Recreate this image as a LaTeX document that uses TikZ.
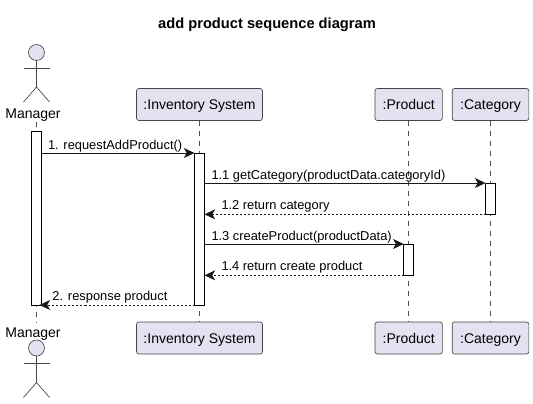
\documentclass[tikz,border=0pt]{standalone}
\usepackage{xcolor}
\usepackage{fontspec}
\setmainfont{Liberation Sans}
\usetikzlibrary{arrows.meta}
\definecolor{boxfill}{HTML}{E2E2F0}
\definecolor{ink}{HTML}{181818}

\begin{document}
\begin{tikzpicture}[
  x=0.75pt, y=-0.75pt,
  every node/.style={inner sep=0pt, outer sep=0pt},
  partbox/.style={draw=ink!80, line width=0.5pt, fill=boxfill, rounded corners=1.8pt, minimum height=24pt, text height=8.2pt, text depth=0pt, font=\fontsize{10.5}{12}\selectfont},
  actorname/.style={anchor=base, font=\fontsize{10.5}{12}\selectfont},
  head/.style={draw=ink!80, line width=0.5pt, fill=boxfill, circle, minimum size=12pt},
  limb/.style={draw=ink!80, line width=0.5pt},
  lifeline/.style={draw=ink!75, line width=0.4pt, dash pattern=on 3.75pt off 3.75pt},
  bar/.style={draw=black, line width=0.75pt, fill=white, minimum width=7.5pt, anchor=north},
  call/.style={draw=ink, line width=0.75pt, -{Stealth[length=8pt, width=7.5pt, inset=2.2pt]}},
  reply/.style={call, dash pattern=on 1.5pt off 1.5pt},
  msg/.style={anchor=base west, font=\fontsize{9.65}{12}\selectfont}
]
\useasboundingbox (0,0) rectangle (533,404);
\fill[white] (0,0) rectangle (533,404);

\node[font=\bfseries\fontsize{11}{12}\selectfont] (title) at (267,25) {add product sequence diagram};

% participants
\node[actorname] (mgrtop) at (33,118) {Manager};
\node[actorname] (mgrbot) at (33,337) {Manager};
\node[partbox, minimum width=94.5pt] (invtop) at (199.5,104.5) {:Inventory System};
\node[partbox, minimum width=94.5pt] (invbot) at (199.5,338) {:Inventory System};
\node[partbox, minimum width=50.5pt] (prodtop) at (408.7,104.5) {:Product};
\node[partbox, minimum width=50.5pt] (prodbot) at (408.7,338) {:Product};
\node[partbox, minimum width=57.5pt] (cattop) at (490.5,104.5) {:Category};
\node[partbox, minimum width=57.5pt] (catbot) at (490.5,338) {:Category};

% actor figures
\foreach \ay/\nm in {52.5/a, 348/b} {
  \node[head] (head\nm) at (36.5,\ay) {};
  \draw[limb] (head\nm.south) -- ++(0,26.5) coordinate (hip\nm);
  \draw[limb] (23.5,\ay+15.5) -- (49.5,\ay+15.5);
  \draw[limb] (23.5,\ay+49.5) -- (hip\nm) -- (49.5,\ay+49.5);
}

% lifelines
\draw[lifeline] (36.5,122) -- (36.5,323);
\draw[lifeline] (invtop) -- (invbot);
\draw[lifeline] (prodtop) -- (prodbot);
\draw[lifeline] (cattop) -- (catbot);

% activations
\node[bar, minimum height=130.5pt] (mgrbar) at (36.5,131) {};
\node[bar, minimum height=114pt] (invbar) at (199.5,153) {};
\node[bar, minimum height=23.5pt] (catbar) at (490.5,183) {};
\node[bar, minimum height=23.5pt] (prodbar) at (408.7,244) {};

% messages
\draw[call] (mgrbar.east |- invbar.north) -- (invbar.north west);
\draw[call] (invbar.east |- catbar.north) -- (catbar.north west);
\draw[reply] (catbar.south west) -- (invbar.east |- catbar.south);
\draw[call] (invbar.east |- prodbar.north) -- (prodbar.north west);
\draw[reply] (prodbar.south west) -- (invbar.east |- prodbar.south);
\draw[reply, shorten >=-1.5pt] (invbar.south west) -- (mgrbar.south east);

\node[msg] (msga) at (48,149) {1. requestAddProduct()};
\node[msg] (msgb) at (211.5,179) {1.1 getCategory(productData.categoryId)};
\node[msg] (msgc) at (221.5,209) {1.2 return category};
\node[msg] (msgd) at (211.5,240) {1.3 createProduct(productData)};
\node[msg] (msge) at (221.5,270) {1.4 return create product};
\node[msg] (msgf) at (52.5,300) {2. response product};
\end{tikzpicture}
\end{document}
